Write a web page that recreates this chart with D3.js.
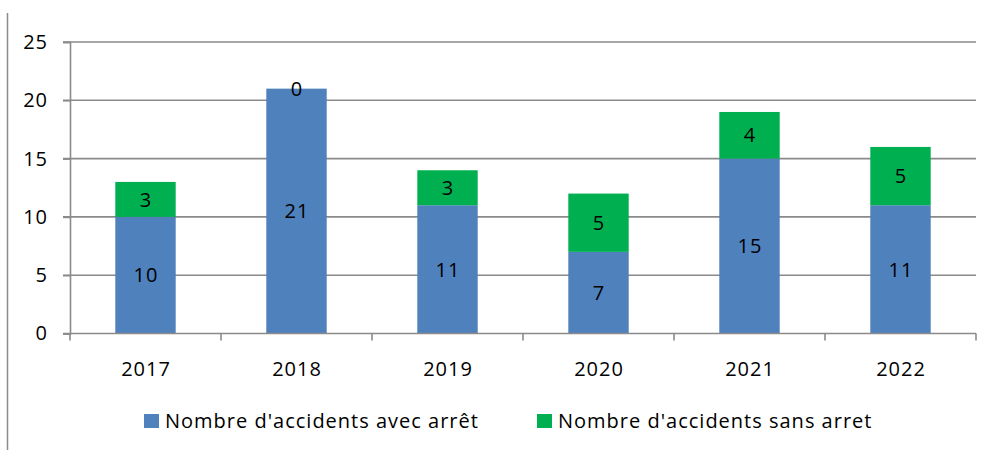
<!DOCTYPE html>
<html>
<head>
<meta charset="utf-8">
<script src="https://cdn.jsdelivr.net/npm/d3@7"></script>
<style>
  html, body { margin: 0; padding: 0; background: #fff; }
  svg text { font-family: "Open Sans", "Liberation Sans", sans-serif; fill: #000; letter-spacing: 1px; }
</style>
</head>
<body>
<svg id="chart" width="990" height="450"></svg>
<script>
// Accidents du travail par année
const years = ["2017", "2018", "2019", "2020", "2021", "2022"];
const avecArret = [10, 21, 11, 7, 15, 11];
const sansArret = [3, 0, 3, 5, 4, 5];
const seriesNames = ["Nombre d'accidents avec arrêt", "Nombre d'accidents sans arret"];
const seriesColors = ["#4F81BD", "#00B050"];
const yTicks = [0, 5, 10, 15, 20, 25];

const svg = d3.select("#chart");
const plotLeft = 70, plotRight = 976, plotTop = 42, plotBottom = 333.5;
const fontSize = 20;

const x = d3.scaleBand().domain(years).range([plotLeft, plotRight]).paddingInner(0.6).paddingOuter(0.3);
const xOuter = d3.scaleBand().domain(years).range([plotLeft, plotRight]);
const y = d3.scaleLinear().domain([0, 25]).range([plotBottom, plotTop]);

// Outer frame line on the left
svg.append("line").attr("x1", 7.5).attr("x2", 7.5).attr("y1", 13).attr("y2", 450)
  .attr("stroke", "#8c8c8c").attr("stroke-width", 1.5);

// Horizontal gridlines
svg.append("g").selectAll("line").data(yTicks.filter(d => d > 0)).join("line")
  .attr("x1", 63).attr("x2", plotRight)
  .attr("y1", d => y(d)).attr("y2", d => y(d))
  .attr("stroke", "#8a8a8a").attr("stroke-width", 1.6);

// Stacked bars
const rows = years.map((yr, i) => ({ year: yr, a: avecArret[i], s: sansArret[i] }));
const stack = d3.stack().keys(["a", "s"])(rows);

stack.forEach((layer, k) => {
  svg.append("g").selectAll("rect").data(layer).join("rect")
    .attr("x", d => x(d.data.year))
    .attr("width", x.bandwidth())
    .attr("y", d => y(d[1]))
    .attr("height", d => y(d[0]) - y(d[1]))
    .attr("fill", seriesColors[k]);
});

// Value labels inside each segment
stack.forEach((layer, k) => {
  svg.append("g").selectAll("text").data(layer).join("text")
    .attr("x", d => x(d.data.year) + x.bandwidth() / 2 + 0.5)
    .attr("y", d => (y(d[0]) + y(d[1])) / 2)
    .attr("dy", "0.36em")
    .attr("text-anchor", "middle")
    .attr("font-size", fontSize)
    .text(d => d[1] - d[0]);
});

// Y axis
const yAxis = svg.append("g").attr("transform", `translate(${plotLeft},0)`)
  .call(d3.axisLeft(y).tickValues(yTicks).tickSize(7).tickPadding(15));
yAxis.select(".domain").attr("stroke", "#8a8a8a").attr("stroke-width", 1.6);
yAxis.selectAll(".tick line").attr("stroke", "#8a8a8a").attr("stroke-width", 1.6);
yAxis.selectAll(".tick text").attr("font-size", fontSize).attr("font-family", null);

// X axis with ticks at category boundaries
const xAxisG = svg.append("g").attr("transform", `translate(0,${plotBottom})`);
xAxisG.append("line").attr("x1", 63).attr("x2", plotRight).attr("y1", 0).attr("y2", 0)
  .attr("stroke", "#8a8a8a").attr("stroke-width", 1.6);
const boundaries = years.map(yr => xOuter(yr)).concat([plotRight]);
xAxisG.selectAll("line.b").data(boundaries).join("line").attr("class", "b")
  .attr("x1", d => d).attr("x2", d => d).attr("y1", 0).attr("y2", 7)
  .attr("stroke", "#8a8a8a").attr("stroke-width", 1.6);
xAxisG.selectAll("text").data(years).join("text")
  .attr("x", d => xOuter(d) + xOuter.bandwidth() / 2 + 0.5)
  .attr("y", 42)
  .attr("text-anchor", "middle")
  .attr("font-size", fontSize)
  .text(d => d);

// Legend
const legendX = [144, 537];
const legend = svg.append("g").selectAll("g").data(seriesNames).join("g")
  .attr("transform", (d, i) => `translate(${legendX[i]},414)`);
legend.append("rect").attr("width", 15).attr("height", 14)
  .attr("fill", (d, i) => seriesColors[i]);
legend.append("text").attr("x", 21).attr("y", 14)
  .attr("font-size", fontSize)
  .text(d => d);
</script>
</body>
</html>
